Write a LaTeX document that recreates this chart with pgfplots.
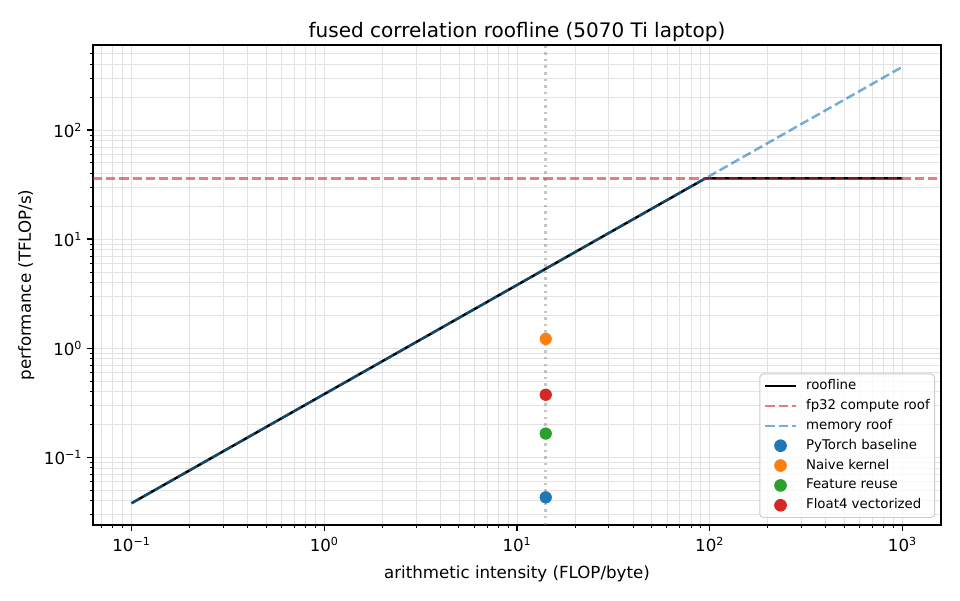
\documentclass[border=0pt]{standalone}
\usepackage{fontspec}
\setmainfont{DejaVu Sans}
\usepackage{pgfplots}
\pgfplotsset{compat=1.18}

\definecolor{tabblue}{HTML}{1F77B4}
\definecolor{taborange}{HTML}{FF7F0E}
\definecolor{tabgreen}{HTML}{2CA02C}
\definecolor{tabred}{HTML}{D62728}

\pgfplotsset{
  linelegend/.style={legend image code/.code={\draw[##1] (0pt,0pt) -- (22pt,0pt);}},
  dotlegend/.style={legend image code/.code={%
    \draw[##1, mark=*, opacity=1, fill opacity=1, draw opacity=1] plot coordinates {(11pt,0pt)};}},
}
\newcommand{\pw}[1]{10\textsuperscript{#1}}

\begin{document}
\begin{tikzpicture}
\useasboundingbox (-66.96pt,-54pt) rectangle (624.24pt,378pt);
\begin{axis}[
  at={(0pt,0pt)}, anchor=south west,
  scale only axis, width=610.56pt, height=345.6pt,
  xmode=log, ymode=log, log basis x=10, log basis y=10,
  xmin=0.0631, xmax=1585, ymin=0.024, ymax=602,
  xtick={0.1,1,10,100,1000},
  xticklabels={\pw{−1},\pw{0},\pw{1},\pw{2},\pw{3}},
  ytick={0.1,1,10,100},
  yticklabels={\pw{−1},\pw{0},\pw{1},\pw{2}},
  minor xtick={0.07,0.08,0.09,0.2,0.3,0.4,0.5,0.6,0.7,0.8,0.9,
    2,3,4,5,6,7,8,9,20,30,40,50,60,70,80,90,200,300,400,500,600,700,800,900},
  minor ytick={0.03,0.04,0.05,0.06,0.07,0.08,0.09,0.2,0.3,0.4,0.5,0.6,0.7,0.8,0.9,
    2,3,4,5,6,7,8,9,20,30,40,50,60,70,80,90,200,300,400,500},
  tick align=outside, xtick pos=left, ytick pos=left,
  major tick length=4.2pt, minor tick length=2.4pt,
  every tick/.style={black, line width=0.96pt},
  minor tick style={line width=0.72pt},
  axis line style={line width=0.96pt},
  grid=both,
  major grid style={black!11, line width=0.65pt},
  minor grid style={black!11, line width=0.65pt},
  tick label style={font=\fontsize{12}{14}\selectfont},
  xticklabel style={yshift=-1pt},
  label style={font=\fontsize{12}{14}\selectfont},
  xlabel style={yshift=-3pt},
  title style={font=\fontsize{14.4}{17}\selectfont, yshift=-7pt},
  title={fused correlation roofline (5070 Ti laptop)},
  xlabel={arithmetic intensity (FLOP/byte)},
  ylabel={performance (TFLOP/s)},
  legend style={
    at={(0.993,0.0146)}, anchor=south east,
    font=\fontsize{9.6}{11}\selectfont,
    draw=black!20, rounded corners=2.5pt, line width=0.7pt,
    fill=white, fill opacity=0.8, text opacity=1,
    nodes={inner sep=0.5pt, text height=7pt, text depth=2pt},
    row sep=4.3pt, inner xsep=3pt, inner ysep=3.8pt,
    /tikz/every odd column/.append style={column sep=6pt},
  },
  legend cell align=left,
]
% operating point of the kernels
\addplot[forget plot, gray, opacity=0.45, line width=1.8pt,
  dash pattern=on 1.8pt off 2.97pt] coordinates {(14.1,0.024) (14.1,602)};

\addplot[linelegend, black, line width=1.8pt] coordinates {
  (0.1,0.038) (94.74,36) (1000,36)};
\addlegendentry{roofline}

\addplot[linelegend, tabred, opacity=0.6, line width=1.8pt,
  dash pattern=on 6.66pt off 2.88pt] coordinates {(0.0631,36) (1585,36)};
\addlegendentry{fp32 compute roof}

\addplot[linelegend, tabblue, opacity=0.6, line width=1.8pt,
  dash pattern=on 6.66pt off 2.88pt] coordinates {(0.1,0.038) (1000,380)};
\addlegendentry{memory roof}

\addplot[dotlegend, only marks, mark=*, mark size=4.2pt, tabblue,
  mark options={draw=tabblue, fill=tabblue}] coordinates {(14.1,0.0430)};
\addlegendentry{PyTorch baseline}

\addplot[dotlegend, only marks, mark=*, mark size=4.2pt, taborange,
  mark options={draw=taborange, fill=taborange}] coordinates {(14.1,1.218)};
\addlegendentry{Naive kernel}

\addplot[dotlegend, only marks, mark=*, mark size=4.2pt, tabgreen,
  mark options={draw=tabgreen, fill=tabgreen}] coordinates {(14.1,0.1653)};
\addlegendentry{Feature reuse}

\addplot[dotlegend, only marks, mark=*, mark size=4.2pt, tabred,
  mark options={draw=tabred, fill=tabred}] coordinates {(14.1,0.3753)};
\addlegendentry{Float4 vectorized}
\end{axis}
\end{tikzpicture}
\end{document}
